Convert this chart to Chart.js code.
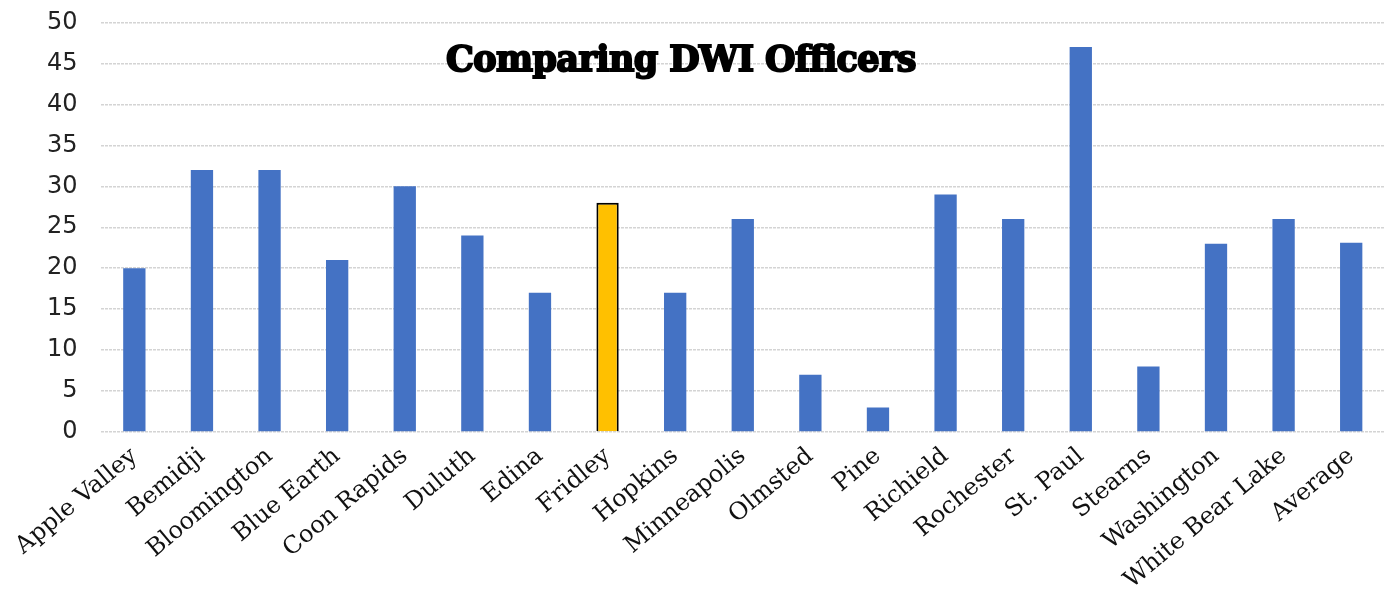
<!DOCTYPE html>
<html>
<head>
<meta charset="utf-8">
<script src="https://cdn.jsdelivr.net/npm/chart.js@4/dist/chart.umd.min.js"></script>
<style>
html,body{margin:0;padding:0;background:#fff;overflow:hidden;}
#wrap{position:relative;width:1394px;height:597px;overflow:hidden;}
#c{position:absolute;left:0;top:-15px;}
#title{position:absolute;left:0;width:1394px;top:38px;text-align:center;font-family:"DejaVu Serif",serif;font-weight:bold;font-size:35px;color:#000;-webkit-text-stroke:2px #000;letter-spacing:-0.6px;margin:0;pointer-events:none;}
#title span{position:relative;left:-16px;}
</style>
</head>
<body>
<div id="wrap">
<canvas id="c" width="1394" height="612"></canvas>
<h1 id="title"><span>Comparing DWI Officers</span></h1>
</div>
<script>
const categories = ["Apple Valley","Bemidji","Bloomington","Blue Earth","Coon Rapids","Duluth","Edina","Fridley","Hopkins","Minneapolis","Olmsted","Pine","Richield","Rochester","St. Paul","Stearns","Washington","White Bear Lake","Average"];
const officers = [20,32,32,21,30,24,17,28,17,26,7,3,29,26,47,8,23,26,23.1];
const highlighted = "Fridley";
const yTicks = [0,5,10,15,20,25,30,35,40,45,50];

const blue = "#4472C4", gold = "#FFC000";
new Chart(document.getElementById("c"), {
  type: "bar",
  data: {
    labels: categories,
    datasets: [{
      data: officers,
      backgroundColor: categories.map(c => c === highlighted ? gold : blue),
      borderColor: categories.map(c => c === highlighted ? "#000" : blue),
      borderWidth: categories.map(c => c === highlighted ? 2 : 0),
      barPercentage: 0.33,
      categoryPercentage: 1.0
    }]
  },
  options: {
    responsive: false,
    animation: false,
    devicePixelRatio: 1,
    layout: { padding: { left: 24, right: 9, top: -4, bottom: 0 } },
    plugins: { legend: { display: false }, title: { display: false }, tooltip: { enabled: false } },
    scales: {
      x: {
        grid: { display: false },
        border: { display: false },
        ticks: {
          minRotation: 40, maxRotation: 40, autoSkip: false,
          font: { family: "DejaVu Serif", size: 24 },
          color: "#111", padding: 2
        }
      },
      y: {
        min: 0, max: 50,
        afterBuildTicks: axis => { axis.ticks = yTicks.map(v => ({ value: v })); },
        grid: { color: "#d4d4d4", lineWidth: 1.5, drawTicks: false },
        border: { display: false, dash: [3, 1] },
        ticks: {
          font: { family: "DejaVu Sans", size: 24 },
          color: "#222", padding: 23
        }
      }
    }
  }
});
</script>
</body>
</html>
